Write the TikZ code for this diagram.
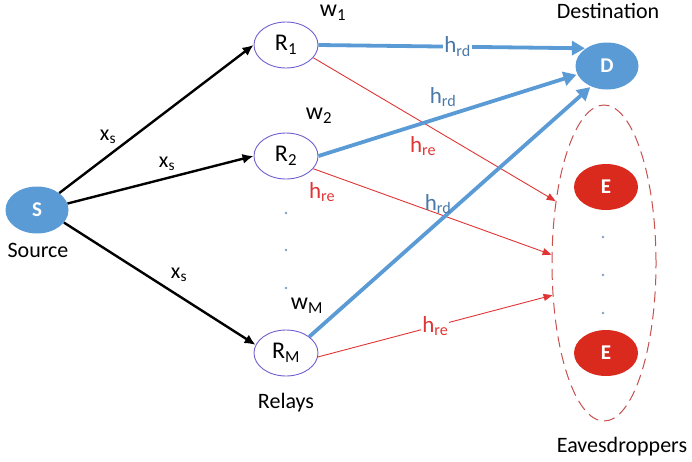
\documentclass[tikz,border=0pt]{standalone}
\usepackage{fontspec}
\setmainfont{Carlito}
\usetikzlibrary{shapes.geometric,arrows.meta}
\definecolor{nodeblue}{HTML}{5B9BD5}
\definecolor{labelblue}{HTML}{4A78A8}
\definecolor{relayring}{HTML}{6F5FCF}
\definecolor{evered}{HTML}{DA2A1E}
\definecolor{leakred}{HTML}{E03535}
\definecolor{ringred}{HTML}{C8504D}
\definecolor{dotgrey}{HTML}{7F9FBF}
\tikzset{
  terminal/.style={ellipse, fill=nodeblue, text=white, inner sep=0pt,
    font=\fontsize{21}{24}\selectfont\bfseries,
    minimum width=63pt, minimum height=47pt},
  eavesnode/.style={terminal, fill=evered, minimum width=64pt, minimum height=46pt},
  relay/.style={ellipse, draw=relayring, line width=0.9pt, fill=white, inner sep=0pt,
    font=\fontsize{24}{28}\selectfont, minimum width=64pt, minimum height=46pt},
  caption/.style={font=\fontsize{22}{26}\selectfont, anchor=base, inner sep=0pt},
  feed/.style={line width=2.4pt, -{Latex[length=11pt,width=10pt]}},
  direct/.style={draw=nodeblue, line width=3.8pt, -{Triangle[length=13pt,width=14pt]}, shorten >=1pt},
  leak/.style={draw=leakred, line width=0.9pt, -{Triangle[length=9pt,width=7pt]}},
  srclabel/.style={font=\fontsize{22}{26}\selectfont, inner sep=1pt},
  weightlabel/.style={font=\fontsize{24}{28}\selectfont, inner sep=1pt},
  rdlabel/.style={font=\fontsize{23}{26}\selectfont, text=labelblue, inner sep=1pt},
  relabel/.style={font=\fontsize{23}{26}\selectfont, text=leakred, inner sep=1pt},
  gap/.style={circle, fill=dotgrey, inner sep=0pt, minimum size=2.6pt}
}
\begin{document}
\begin{tikzpicture}[x=1pt, y=-1pt]
\useasboundingbox (0,0) rectangle (692,461);

% terminals and relays
\node[terminal] (S) at (37,210) {S};
\node[relay] (R1) at (286,45) {R\textsubscript{1}};
\node[relay] (R2) at (286,156) {R\textsubscript{2}};
\node[relay] (RM) at (286,353) {R\textsubscript{M}};
\node[terminal] (D) at (607,66) {D};

% eavesdropper cluster
\node[ellipse, draw=ringred, line width=1pt, dash pattern=on 11pt off 6pt,
      minimum width=104pt, minimum height=316pt] (Eve) at (604,263) {};
\node[eavesnode] (E1) at (606,187) {E};
\node[eavesnode] (E2) at (606,353) {E};
\node[gap] (ed1) at (603,237) {};
\node[gap] (ed2) at (603,275) {};
\node[gap] (ed3) at (603,313) {};

% relay ellipsis
\node[gap] (rd1) at (286,213) {};
\node[gap] (rd2) at (286,250) {};
\node[gap] (rd3) at (286,288) {};

% captions
\node[caption] (capS) at (38,257) {Source};
\node[caption] (capR) at (286,408) {Relays};
\node[caption] (capD) at (608,18) {Destination};
\node[caption] (capE) at (622,452) {Eavesdroppers};

% source broadcast
\draw[feed] (S) -- (R1.west);
\draw[feed] (S.12) -- (R2.west);
\draw[feed] (S.-25) -- (RM.165);
\node[srclabel] (xs1) at (108,137) {x\textsubscript{s}};
\node[srclabel] (xs2) at (167,164) {x\textsubscript{s}};
\node[srclabel] (xs3) at (179,275) {x\textsubscript{s}};

% relay weights
\node[weightlabel] (w1) at (333,13) {w\textsubscript{1}};
\node[weightlabel] (w2) at (319,116) {w\textsubscript{2}};
\node[weightlabel] (wM) at (307,306) {w\textsubscript{M}};

% relay to eavesdroppers
\draw[leak] (R1.-25) -- (Eve.128);
\draw[leak] (R2.-25) -- (Eve.171);
\draw[leak] (RM.-7) -- node[relabel, fill=white, pos=0.5] (hre3) {h\textsubscript{re}} (Eve.212);
\node[relabel] (hre1) at (423,146) {h\textsubscript{re}};
\node[relabel] (hre2) at (322,192) {h\textsubscript{re}};

% relay to destination
\draw[direct] (R1.east) -- node[rdlabel, fill=white, pos=0.52] (hrd1) {h\textsubscript{rd}} (D.140);
\draw[direct] (R2.east) -- (D.196);
\draw[direct] (RM.35) -- (D.232);
\node[rdlabel] (hrd2) at (443,97) {h\textsubscript{rd}};
\node[rdlabel] (hrd3) at (438,204) {h\textsubscript{rd}};
\end{tikzpicture}
\end{document}
